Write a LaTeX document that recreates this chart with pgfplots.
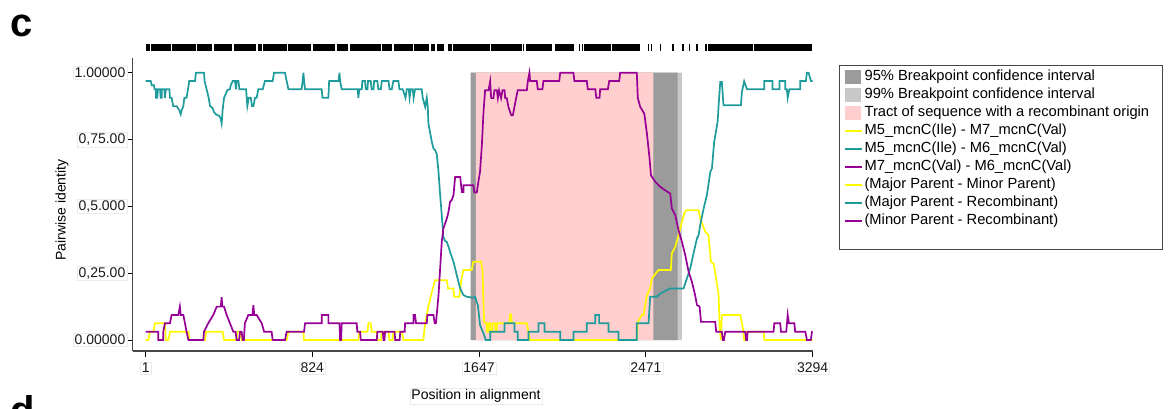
\documentclass[border=0pt]{standalone}
\usepackage{pgfplots}
\pgfplotsset{compat=1.18}
\usepackage{fontspec}
\setmainfont{Liberation Sans}

\definecolor{rdpyellow}{RGB}{255,250,0}
\definecolor{rdpteal}{RGB}{30,155,155}
\definecolor{rdppurple}{RGB}{150,0,150}
\definecolor{ciA}{RGB}{155,155,155}
\definecolor{ciB}{RGB}{200,200,200}
\definecolor{tract}{RGB}{255,206,206}
\definecolor{axisgray}{RGB}{70,70,70}

\newcommand{\lblfont}{\fontsize{14}{16}\selectfont}
\newcommand{\legfont}{\fontsize{14.7}{16}\selectfont}

\pgfplotsset{
  box legend/.style={legend image code/.code={\fill[##1, draw=none] (0pt,-7pt) rectangle (16pt,7pt);}},
  rule legend/.style={legend image code/.code={\draw[##1] (0pt,0pt) -- (17pt,0pt);}},
}

\begin{document}
\lblfont
\begin{tikzpicture}
\useasboundingbox (0pt,0pt) rectangle (1172pt,408pt);

% panel letters
\node[anchor=base west, inner sep=0, font=\fontsize{40}{40}\selectfont\bfseries] at (10pt,371pt) {c};
\node[anchor=base west, inner sep=0, font=\fontsize{40}{40}\selectfont\bfseries] at (10pt,-16pt) {d};

% informative sites along the alignment
\begin{axis}[
  at={(132.5pt,357pt)}, anchor=south west, scale only axis,
  width=680.5pt, height=7pt,
  xmin=-64, xmax=3296, ymin=0, ymax=1,
  hide axis, unbounded coords=jump, clip=false,
]
\addplot[black, line width=7pt] coordinates {
 (2,0.5) (22,0.5) (22,nan)
 (28,0.5) (126,0.5) (126,nan)
 (133,0.5) (250,0.5) (250,nan)
 (254,0.5) (327,0.5) (327,nan)
 (340,0.5) (429,0.5) (429,nan)
 (435,0.5) (545,0.5) (545,nan)
 (554,0.5) (574,0.5) (574,nan)
 (580,0.5) (700,0.5) (700,nan)
 (704,0.5) (815,0.5) (815,nan)
 (826,0.5) (936,0.5) (936,nan)
 (944,0.5) (1002,0.5) (1002,nan)
 (1008,0.5) (1162,0.5) (1162,nan)
 (1170,0.5) (1219,0.5) (1219,nan)
 (1226,0.5) (1320,0.5) (1320,nan)
 (1324,0.5) (1402,0.5) (1402,nan)
 (1408,0.5) (1430,0.5) (1430,nan)
 (1437,0.5) (1474,0.5) (1474,nan)
 (1494,0.5) (1513,0.5) (1513,nan)
 (1519,0.5) (1700,0.5) (1700,nan)
 (1704,0.5) (1858,0.5) (1858,nan)
 (1865,0.5) (1869,0.5) (1869,nan)
 (1881,0.5) (2007,0.5) (2007,nan)
 (2021,0.5) (2118,0.5) (2118,nan)
 (2142,0.5) (2146,0.5) (2146,nan)
 (2157,0.5) (2161,0.5) (2161,nan)
 (2165,0.5) (2300,0.5) (2300,nan)
 (2304,0.5) (2443,0.5) (2443,nan)
 (2482,0.5) (2486,0.5) (2486,nan)
 (2497,0.5) (2501,0.5) (2501,nan)
 (2541,0.5) (2545,0.5) (2545,nan)
 (2598,0.5) (2610,0.5) (2610,nan)
 (2648,0.5) (2658,0.5) (2658,nan)
 (2682,0.5) (2690,0.5) (2690,nan)
 (2720,0.5) (2730,0.5) (2730,nan)
 (2763,0.5) (2771,0.5) (2771,nan)
 (2778,0.5) (3000,0.5) (3000,nan)
 (3004,0.5) (3291,0.5)
};
\end{axis}

\begin{axis}[
  at={(132.5pt,57pt)}, anchor=south west, scale only axis,
  width=680.5pt, height=293pt,
  xmin=-64, xmax=3296, ymin=-0.041, ymax=1.055,
  axis x line=bottom, axis y line=left,
  axis line style={-, draw=axisgray, line width=1.2pt},
  tick align=outside, major tick length=5.5pt,
  tick style={black, line width=1pt},
  xtick={1,824,1647,2471,3294},
  xticklabels={1,824,1647,2471,3294},
  ytick={0,0.25,0.5,0.75,1},
  yticklabels={0.00000,{0,25.00},{0,5.000},{0,75.00},1.00000},
  ticklabel style={font=\lblfont, text=black!90, draw=black!8, inner sep=1.5pt},
  xticklabel style={yshift=-5pt},
  xlabel={Position in alignment},
  ylabel={Pairwise identity},
  every axis x label/.style={at={(axis description cs:0.5048,-0.1536)}, anchor=center, font=\lblfont, draw=black!8, inner sep=1.5pt},
  every axis y label/.style={at={(axis description cs:-0.1036,0.481)}, anchor=center, rotate=90, font=\lblfont},
  legend style={at={(axis description cs:1.0382,0.976)}, anchor=north west,
    draw=axisgray, line width=1.2pt, fill=white, font=\legfont,
    row sep=0pt, inner xsep=4pt, inner ysep=2pt,
    nodes={inner ysep=2pt, text height=10.5pt, text depth=3.5pt}},
  legend cell align=left,
]

% breakpoint confidence intervals and recombinant tract
\addplot[fill=ciB, draw=none, forget plot] coordinates {(1604,0) (1604,1) (2649,1) (2649,0)} \closedcycle;
\addplot[fill=ciA, draw=none, forget plot] coordinates {(1608,0) (1608,1) (2627,1) (2627,0)} \closedcycle;
\addplot[fill=tract, draw=none, forget plot] coordinates {(1631,0) (1631,1) (2508,1) (2508,0)} \closedcycle;

% M5_mcnC(Ile) - M7_mcnC(Val)
\addplot[rdpyellow, line width=1.7pt, forget plot] coordinates {
(1,0)(14,0)(22,0.031)(40,0.031)(47,0.063)(96,0.063)(101,0)(113,0)(121,0.031)(212,0.031)(217,0)(295,0)(299,0.031)(381,0.031)(388,0)(450,0)(454,0.031)(467,0.031)(475,0)(697,0)(706,0.031)(780,0.031)(783,0)(1051,0)(1056,0.031)(1096,0.031)(1101,0.063)(1112,0.063)(1117,0.031)(1142,0.031)(1145,0)(1163,0)(1167,0.031)(1200,0.031)(1205,0)(1220,0)(1224,0.031)(1266,0.031)(1274,0)(1372,0)(1381,0.063)(1389,0.094)(1397,0.125)(1410,0.168)(1430,0.224)(1488,0.224)(1494,0.193)(1521,0.193)(1524,0.162)(1550,0.162)(1558,0.218)(1570,0.262)(1611,0.262)(1619,0.293)(1657,0.293)(1664,0.262)(1672,0.068)(1677,0.063)(1684,0.063)(1686,0.031)(1692,0.031)(1694,0.063)(1702,0.063)(1704,0.031)(1712,0.031)(1714,0.063)(1726,0.063)(1728,0.031)(1734,0.031)(1736,0.063)(1797,0.063)(1801,0.097)(1805,0.097)(1809,0.063)(1883,0.063)(1891,0.031)(1899,0)(2426,0)(2431,0.068)(2451,0.094)(2459,0.094)(2476,0.168)(2492,0.193)(2500,0.230)(2533,0.262)(2594,0.262)(2599,0.324)(2616,0.349)(2632,0.392)(2649,0.442)(2660,0.473)(2670,0.486)(2731,0.486)(2739,0.455)(2764,0.405)(2780,0.392)(2792,0.293)(2805,0.286)(2818,0.230)(2830,0.168)(2835,0.044)(2841,0)(2846,0.094)(2937,0.094)(2950,0.044)(2956,0)(2966,0)(2970,0.031)(3052,0.031)(3056,0)(3294,0)
};

% M5_mcnC(Ile) - M6_mcnC(Val)
\addplot[rdpteal, line width=1.7pt, forget plot] coordinates {
(1,0.969)(26,0.969)(31,0.953)(42,0.953)(45,0.938)(52,0.938)(52,0.906)(58,0.906)(62,0.938)(72,0.938)(75,0.906)(80,0.906)(81,0.938)(93,0.938)(96,0.906)(101,0.938)(118,0.938)(121,0.906)(129,0.906)(137,0.875)(154,0.875)(167,0.860)(174,0.844)(179,0.860)(187,0.875)(192,0.906)(203,0.906)(210,0.938)(216,0.969)(245,0.969)(249,1)(289,1)(292,0.969)(302,0.938)(312,0.906)(319,0.875)(332,0.867)(338,0.853)(348,0.844)(365,0.838)(371,0.829)(376,0.81)(381,0.86)(388,0.906)(398,0.923)(404,0.935)(417,0.938)(421,0.953)(431,0.969)(442,0.969)(447,0.938)(450,0.969)(459,0.969)(464,0.938)(497,0.938)(500,0.906)(503,0.875)(510,0.906)(520,0.906)(526,0.875)(533,0.875)(541,0.906)(549,0.906)(557,0.938)(579,0.938)(590,0.969)(628,0.969)(635,1)(689,1)(697,0.969)(706,0.938)(771,0.938)(776,0.969)(780,1)(783,0.969)(788,0.938)(870,0.938)(874,0.906)(903,0.906)(907,0.969)(953,0.969)(958,1)(961,0.969)(969,0.938)(1048,0.938)(1051,0.906)(1056,0.938)(1068,0.938)(1071,0.969)(1084,0.969)(1088,0.938)(1096,0.938)(1099,0.969)(1112,0.969)(1117,0.938)(1126,0.938)(1129,0.969)(1145,0.969)(1150,0.938)(1162,0.938)(1167,0.969)(1200,0.969)(1205,0.938)(1216,0.938)(1224,0.969)(1249,0.969)(1254,0.938)(1270,0.938)(1277,0.923)(1284,0.906)(1290,0.938)(1300,0.938)(1304,0.906)(1310,0.938)(1320,0.938)(1324,0.906)(1331,0.938)(1364,0.938)(1369,0.906)(1381,0.872)(1389,0.906)(1394,0.872)(1397,0.810)(1405,0.778)(1414,0.741)(1422,0.717)(1430,0.710)(1438,0.697)(1447,0.629)(1455,0.542)(1463,0.467)(1471,0.386)(1480,0.370)(1488,0.367)(1496,0.350)(1504,0.330)(1513,0.310)(1521,0.293)(1529,0.268)(1545,0.218)(1554,0.193)(1570,0.168)(1586,0.162)(1619,0.158)(1628,0.162)(1636,0.140)(1641,0.131)(1652,0.056)(1669,0.025)(1680,0)(1702,0)(1702,0.031)(1773,0.031)(1773,0.063)(1822,0.063)(1822,0.031)(1838,0.031)(1838,0)(1891,0)(1891,0.031)(1941,0.031)(1941,0.063)(1970,0.063)(1970,0.031)(2048,0.031)(2048,0)(2113,0)(2113,0.031)(2179,0.031)(2179,0.063)(2221,0.063)(2221,0.094)(2240,0.094)(2240,0.063)(2286,0.063)(2286,0.031)(2336,0.031)(2336,0)(2426,0)(2426,0.063)(2484,0.063)(2492,0.162)(2525,0.162)(2542,0.174)(2591,0.193)(2657,0.193)(2673,0.230)(2690,0.268)(2706,0.324)(2723,0.380)(2731,0.392)(2739,0.430)(2756,0.492)(2772,0.542)(2789,0.629)(2797,0.642)(2808,0.741)(2825,0.816)(2831,0.890)(2838,0.965)(2846,0.965)(2854,0.878)(2940,0.878)(2945,0.928)(2956,0.968)(2970,0.938)(3055,0.938)(3055,0.969)(3096,0.969)(3096,0.938)(3131,0.938)(3131,0.969)(3159,0.969)(3159,0.938)(3167,0.938)(3171,0.906)(3179,0.938)(3233,0.938)(3233,0.969)(3261,0.969)(3266,1)(3274,1)(3286,0.969)(3294,0.969)
};

% M7_mcnC(Val) - M6_mcnC(Val)
\addplot[rdppurple, line width=1.7pt, forget plot] coordinates {
(1,0.031)(63,0.031)(63,0)(88,0)(88,0.031)(96,0.063)(121,0.063)(129,0.094)(162,0.094)(170,0.125)(174,0.094)(187,0.094)(195,0.063)(203,0.031)(212,0)(286,0)(289,0.031)(310,0.063)(335,0.094)(352,0.125)(372,0.125)(376,0.160)(380,0.125)(388,0.125)(401,0.094)(417,0.063)(434,0.031)(445,0.031)(450,0)(462,0)(467,0.031)(475,0.031)(480,0)(486,0)(491,0.063)(508,0.094)(528,0.094)(533,0.130)(537,0.094)(549,0.094)(574,0.063)(586,0.031)(623,0.031)(628,0)(689,0)(697,0.031)(783,0.031)(788,0.063)(870,0.063)(870,0.094)(903,0.094)(903,0.063)(958,0.063)(961,0)(966,0)(969,0.063)(1043,0.063)(1046,0.031)(1060,0.031)(1063,0)(1142,0)(1145,0.031)(1172,0.031)(1175,0)(1180,0)(1183,0.031)(1230,0.031)(1233,0)(1255,0)(1258,0.031)(1280,0.031)(1282,0.063)(1323,0.063)(1323,0.094)(1331,0.094)(1336,0.063)(1389,0.063)(1392,0.094)(1422,0.094)(1428,0.063)(1434,0.063)(1438,0.094)(1447,0.168)(1455,0.268)(1463,0.367)(1471,0.417)(1488,0.455)(1496,0.479)(1504,0.517)(1512,0.523)(1521,0.542)(1529,0.610)(1554,0.610)(1562,0.554)(1570,0.554)(1570,0.579)(1619,0.579)(1624,0.552)(1636,0.552)(1641,0.579)(1652,0.630)(1661,0.729)(1669,0.853)(1677,0.934)(1694,0.934)(1702,0.968)(1707,0.905)(1718,0.905)(1723,0.934)(1735,0.934)(1740,0.905)(1746,0.934)(1756,0.905)(1763,0.934)(1773,0.934)(1776,0.905)(1784,0.905)(1792,0.872)(1806,0.841)(1814,0.841)(1822,0.872)(1830,0.905)(1838,0.934)(1883,0.934)(1888,0.969)(1896,1)(1899,0.969)(1932,0.969)(1937,0.938)(1960,0.938)(1965,0.969)(2043,0.969)(2048,1)(2113,1)(2118,0.969)(2179,0.969)(2184,0.938)(2221,0.938)(2226,0.906)(2242,0.906)(2245,0.938)(2283,0.938)(2290,0.969)(2339,0.969)(2344,1)(2426,1)(2431,0.905)(2443,0.872)(2463,0.847)(2476,0.772)(2489,0.679)(2496,0.616)(2517,0.592)(2542,0.573)(2566,0.560)(2591,0.548)(2599,0.492)(2616,0.467)(2632,0.411)(2649,0.367)(2665,0.318)(2682,0.255)(2698,0.218)(2714,0.168)(2723,0.131)(2736,0.125)(2743,0.068)(2813,0.068)(2818,0.031)(2846,0.031)(2851,0)(2856,0)(2863,0.031)(2961,0.031)(2966,0)(2970,0)(2973,0.031)(3101,0.031)(3105,0.063)(3134,0.063)(3138,0.031)(3164,0.031)(3171,0.094)(3177,0.063)(3204,0.063)(3208,0.031)(3258,0.031)(3266,0)(3285,0)(3291,0.031)(3294,0.031)
};

% legend
\addlegendimage{box legend, fill=ciA}
\addlegendentry{95\% Breakpoint confidence interval}
\addlegendimage{box legend, fill=ciB}
\addlegendentry{99\% Breakpoint confidence interval}
\addlegendimage{box legend, fill=tract}
\addlegendentry{Tract of sequence with a recombinant origin}
\addlegendimage{rule legend, draw=rdpyellow, line width=2pt}
\addlegendentry{M5\_mcnC(Ile) - M7\_mcnC(Val)}
\addlegendimage{rule legend, draw=rdpteal, line width=2pt}
\addlegendentry{M5\_mcnC(Ile) - M6\_mcnC(Val)}
\addlegendimage{rule legend, draw=rdppurple, line width=2pt}
\addlegendentry{M7\_mcnC(Val) - M6\_mcnC(Val)}
\addlegendimage{rule legend, draw=rdpyellow, line width=2pt}
\addlegendentry{(Major Parent - Minor Parent)}
\addlegendimage{rule legend, draw=rdpteal, line width=2pt}
\addlegendentry{(Major Parent - Recombinant)}
\addlegendimage{rule legend, draw=rdppurple, line width=2pt}
\addlegendentry{(Minor Parent - Recombinant)}
\addlegendimage{empty legend}
\addlegendentry{\hspace*{292pt}}
\end{axis}
\end{tikzpicture}
\end{document}
